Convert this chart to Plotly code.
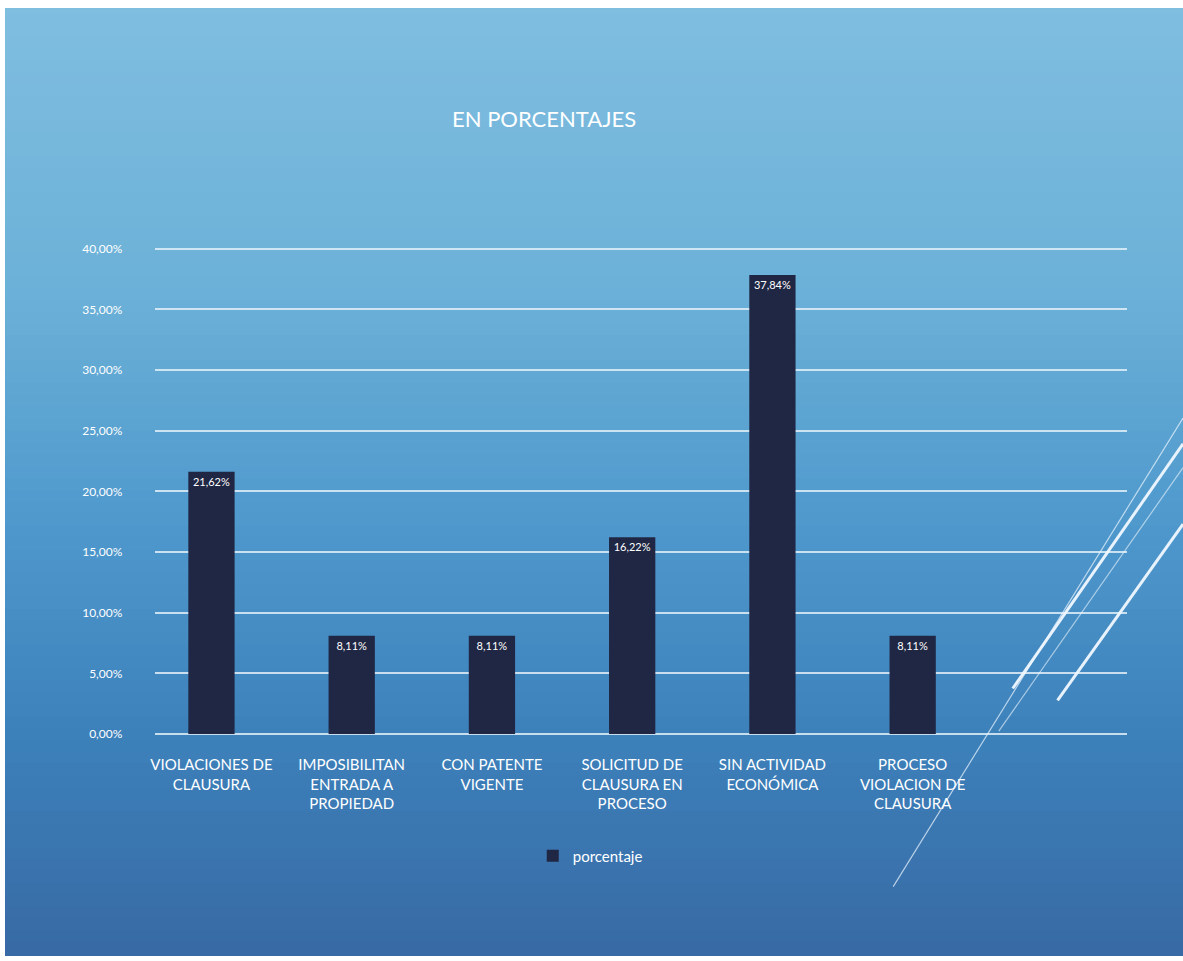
import plotly.graph_objects as go

# ---- data ----
categories = [
    "VIOLACIONES DE<br>CLAUSURA",
    "IMPOSIBILITAN<br>ENTRADA A<br>PROPIEDAD",
    "CON PATENTE<br>VIGENTE",
    "SOLICITUD DE<br>CLAUSURA EN<br>PROCESO",
    "SIN ACTIVIDAD<br>ECONÓMICA",
    "PROCESO<br>VIOLACION DE<br>CLAUSURA",
]
porcentaje = [21.62, 8.11, 8.11, 16.22, 37.84, 8.11]
y_tickvals = [0, 5, 10, 15, 20, 25, 30, 35, 40]
y_ticktext = ["0,00%", "5,00%", "10,00%", "15,00%", "20,00%", "25,00%", "30,00%", "35,00%", "40,00%"]
bar_labels = [f"{v:.2f}%".replace(".", ",") for v in porcentaje]

W, H = 1183, 961
FONT = "Lato, Open Sans, sans-serif"

def px(x):
    return x / W

def py(y):
    return 1 - y / H

fig = go.Figure()
fig.add_trace(go.Bar(
    x=list(range(len(categories))),
    y=porcentaje,
    name="porcentaje",
    marker=dict(color="#1f2744", line=dict(width=0)),
    width=0.33,
    text=bar_labels,
    textposition="inside",
    insidetextanchor="end",
    constraintext="none",
    textfont=dict(color="white", size=11, family=FONT),
))

# ---- background gradient ----
stops = [(0.0, (128, 190, 224)), (0.3, (108, 177, 216)), (0.55, (78, 152, 204)),
         (0.78, (60, 128, 186)), (1.0, (56, 106, 164))]

def colour_at(t):
    for (t0, c0), (t1, c1) in zip(stops[:-1], stops[1:]):
        if t0 <= t <= t1:
            f = (t - t0) / (t1 - t0)
            return "rgb(%d,%d,%d)" % tuple(round(a + (b - a) * f) for a, b in zip(c0, c1))
    return "rgb(%d,%d,%d)" % stops[-1][1]

shapes = []
N = 80
for i in range(N):
    y0 = 1 - i / N
    y1 = 1 - (i + 1) / N
    shapes.append(dict(type="rect", xref="paper", yref="paper", x0=0, x1=1,
                       y0=y1 - 0.002, y1=y0, layer="below", line=dict(width=0),
                       fillcolor=colour_at((i + 0.5) / N)))
# white border at the top
shapes.append(dict(type="rect", xref="paper", yref="paper", x0=0, x1=1,
                   y0=py(6), y1=1, layer="below", line=dict(width=0), fillcolor="white"))

# decorative diagonal lines
deco = [
    ((1012, 693), (1183, 446), 3.0, 0.95),
    ((1057, 705), (1183, 527), 3.0, 0.95),
    ((892, 893), (1183, 420), 1.2, 0.7),
    ((998, 736), (1183, 470), 1.2, 0.6),
]
for (x0, y0), (x1, y1), w, op in deco:
    shapes.append(dict(type="line", xref="paper", yref="paper",
                       x0=px(x0), y0=py(y0), x1=px(x1), y1=py(y1),
                       line=dict(color="rgba(240,248,255,%.2f)" % op, width=w), layer="above"))

grid_col = "rgba(225,238,248,0.85)"

fig.update_layout(
    width=W, height=H,
    margin=dict(l=0, r=0, t=0, b=0),
    paper_bgcolor="white",
    plot_bgcolor="rgba(0,0,0,0)",
    shapes=shapes,
    showlegend=True,
    legend=dict(orientation="h", x=px(530), y=py(862), xanchor="left", yanchor="middle",
                font=dict(color="white", size=15, family=FONT),
                bgcolor="rgba(0,0,0,0)", itemwidth=30),
    annotations=[dict(text="EN PORCENTAJES", xref="paper", yref="paper",
                      x=px(541), y=py(118), xanchor="center", yanchor="middle",
                      showarrow=False,
                      font=dict(color="white", size=22, family=FONT))],
    xaxis=dict(domain=[px(151), px(1127)], range=[-0.4, 6.53],
               tickvals=list(range(len(categories))), ticktext=categories,
               tickfont=dict(color="white", size=15, family=FONT),
               ticklabelstandoff=20,
               showgrid=False, zeroline=False, showline=False, ticks=""),
    yaxis=dict(domain=[py(739), py(243)], range=[0, 40.5],
               tickvals=y_tickvals, ticktext=y_ticktext,
               tickfont=dict(color="white", size=12, family=FONT),
               showgrid=True, gridcolor=grid_col, gridwidth=2,
               zeroline=True, zerolinecolor=grid_col, zerolinewidth=2,
               ticklabelstandoff=32, showline=False, ticks=""),
    bargap=0.67,
)

fig.write_html(
    "out.html", config={"displayModeBar": False},
    post_script=("document.body.style.margin='0';document.body.style.padding='0';"))
